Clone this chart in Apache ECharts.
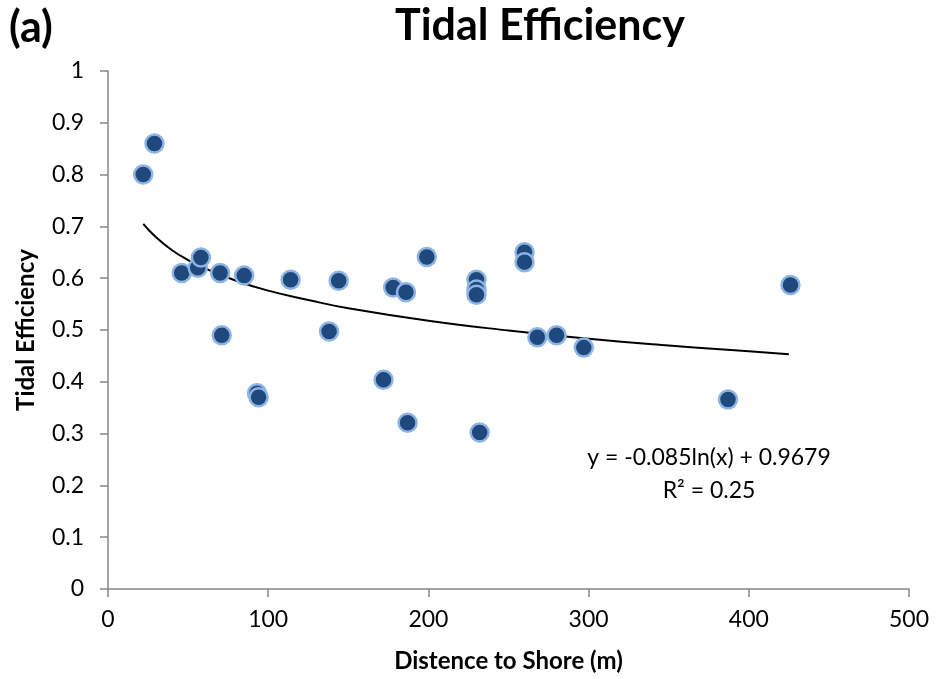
<!DOCTYPE html>
<html><head><meta charset="utf-8">
<script src="https://cdn.jsdelivr.net/npm/echarts@6/dist/echarts.min.js"></script>
<style>html,body{margin:0;padding:0;background:#fff}#c{width:937px;height:679px}</style>
</head><body><div id="c"></div>
<script>
// Distance to shore (m) for each observation
const distance = [22, 29, 46, 56, 58, 70, 71, 85, 93, 94, 114, 138, 144, 172, 178, 186, 187, 199, 230, 230, 230, 232, 260, 260, 268, 280, 297, 387, 426];
// Tidal efficiency for each observation
const efficiency = [0.80, 0.86, 0.61, 0.62, 0.64, 0.61, 0.49, 0.605, 0.378, 0.37, 0.597, 0.497, 0.595, 0.404, 0.582, 0.573, 0.321, 0.641, 0.597, 0.578, 0.568, 0.302, 0.650, 0.631, 0.486, 0.490, 0.466, 0.366, 0.587];
// Trend line
const trendX = [22, 30, 40, 50, 60, 80, 100, 125, 150, 200, 250, 300, 350, 400, 425];
const trendY = [0.705, 0.679, 0.654, 0.635, 0.620, 0.595, 0.576, 0.558, 0.542, 0.518, 0.499, 0.483, 0.470, 0.459, 0.453];
const xTicks = [0, 100, 200, 300, 400, 500];
const yTicks = [0, 0.1, 0.2, 0.3, 0.4, 0.5, 0.6, 0.7, 0.8, 0.9, 1];
const titleText = 'Tidal Efficiency';
const panelLabel = '(a)';
const xName = 'Distence to Shore (m)';
const yName = 'Tidal Efficiency';
const eqText = 'y = -0.085ln(x) + 0.9679';
const r2Text = 'R² = 0.25';

const FONT = 'Lato, "Open Sans", sans-serif';
const chart = echarts.init(document.getElementById('c'), null, {renderer: 'canvas'});
const axisLine = {show: true, lineStyle: {color: '#868686', width: 1.5}};
const axisTick = {show: true, length: 8, lineStyle: {color: '#868686', width: 1.5}};
chart.setOption({
  animation: false,
  backgroundColor: '#fff',
  grid: {left: 108, right: 28, top: 71, bottom: 90},
  xAxis: {
    type: 'value', min: xTicks[0], max: xTicks[xTicks.length - 1], interval: 100,
    name: xName, nameLocation: 'middle', nameGap: 60,
    nameTextStyle: {fontFamily: FONT, fontWeight: 'bold', fontSize: 24, color: '#000'},
    axisLine: axisLine, axisTick: axisTick,
    axisLabel: {fontFamily: FONT, fontSize: 23, color: '#000', margin: 19},
    splitLine: {show: false}
  },
  yAxis: {
    type: 'value', min: yTicks[0], max: yTicks[yTicks.length - 1], interval: 0.1,
    name: yName, nameLocation: 'middle', nameGap: 70, nameRotate: 90,
    nameTextStyle: {fontFamily: FONT, fontWeight: 'bold', fontSize: 24, color: '#000'},
    axisLine: axisLine, axisTick: axisTick,
    axisLabel: {fontFamily: FONT, fontSize: 23, color: '#000', margin: 24,
      formatter: v => String(Math.round(v * 10) / 10)},
    splitLine: {show: false}
  },
  series: [
    {
      type: 'line', data: trendX.map((x, i) => [x, trendY[i]]),
      smooth: true, showSymbol: false, symbol: 'none',
      lineStyle: {color: '#000', width: 2}, z: 1
    },
    {
      type: 'scatter', data: distance.map((x, i) => [x, efficiency[i]]),
      symbol: 'circle', symbolSize: 18,
      itemStyle: {color: '#1F497D', borderColor: '#8DB4E2', borderWidth: 2.5, opacity: 1},
      z: 2
    }
  ],
  graphic: [
    {type: 'text', x: 540, y: 26, style: {text: titleText, font: 'bold 43px ' + FONT, fill: '#000', align: 'center', verticalAlign: 'middle'}},
    {type: 'text', x: 9, y: 28, style: {text: panelLabel, font: 'bold 43px ' + FONT, fill: '#000', align: 'left', verticalAlign: 'middle'}},
    {type: 'text', x: 709, y: 458, style: {text: eqText, font: '23px ' + FONT, fill: '#000', align: 'center', verticalAlign: 'middle'}},
    {type: 'text', x: 709, y: 491, style: {text: r2Text, font: '23px ' + FONT, fill: '#000', align: 'center', verticalAlign: 'middle'}}
  ]
});
</script></body></html>
